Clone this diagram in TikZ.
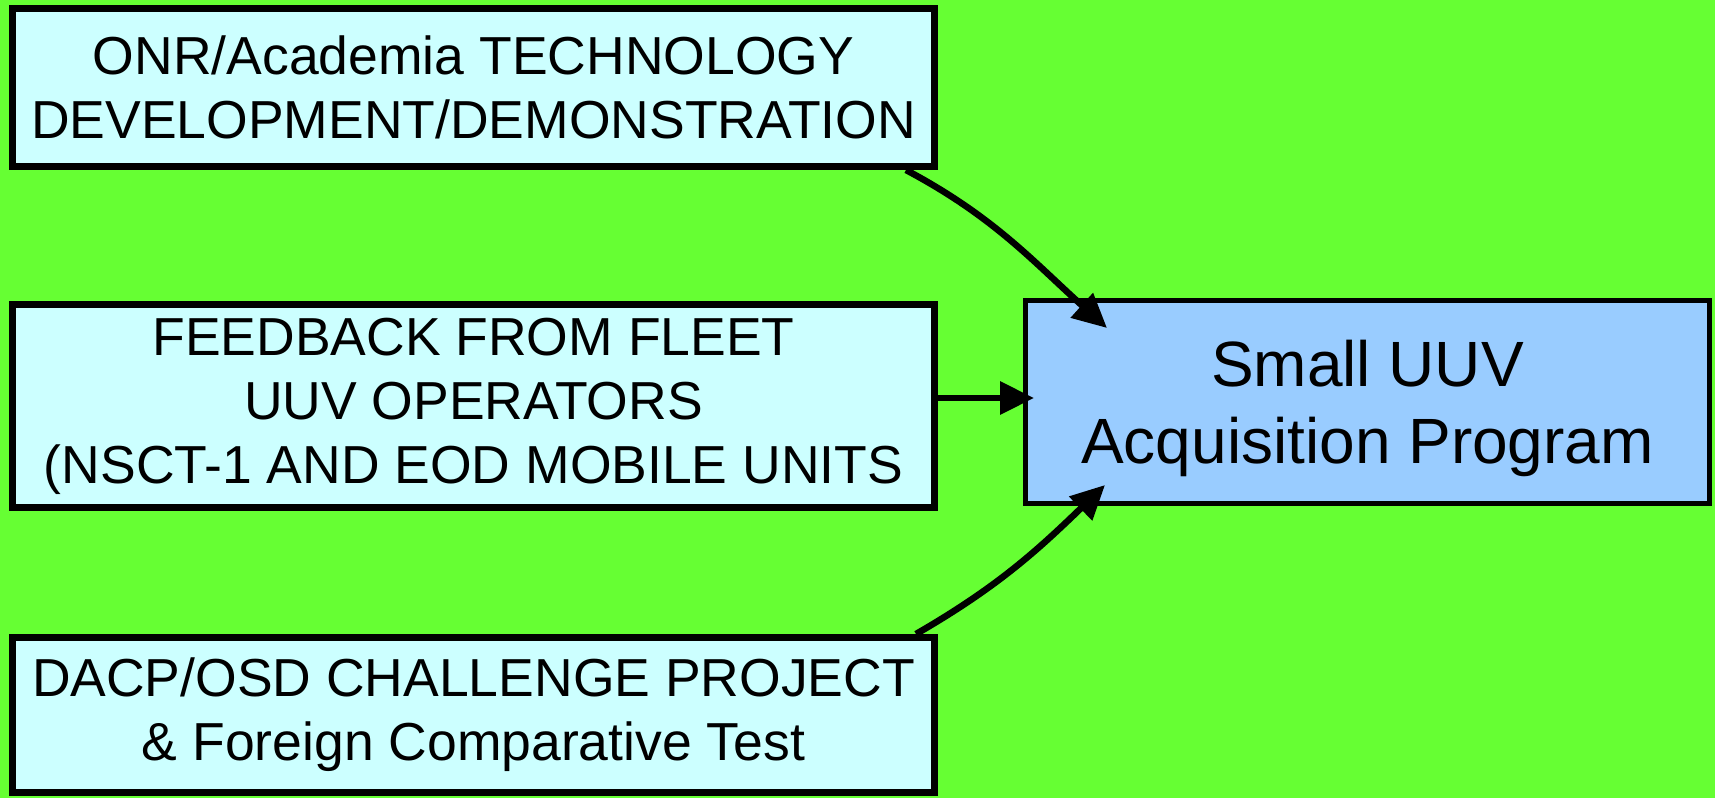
\documentclass[tikz,border=0pt]{standalone}
\usepackage{fontspec}
\setmainfont{Liberation Sans}
\usetikzlibrary{arrows.meta}
\definecolor{bggreen}{RGB}{102,255,51}
\definecolor{lightcyan}{RGB}{204,255,255}
\definecolor{lightblue}{RGB}{153,204,255}
\tikzset{
  srcbox/.style={draw=black, line width=7pt, fill=lightcyan, align=center, inner sep=0pt,
    font=\fontsize{53.5}{64}\selectfont},
  tgtbox/.style={draw=black, line width=5pt, fill=lightblue, inner sep=0pt},
  tgttext/.style={align=center, inner sep=0pt, font=\fontsize{64}{77}\selectfont},
  arr/.style={line width=6.5pt, -{Triangle[length=34pt,width=32pt]}}
}
\begin{document}
\begin{tikzpicture}[x=1pt,y=-1pt]
\fill[bggreen] (0,0) rectangle (1715,798);
\useasboundingbox (0,0) rectangle (1715,798);
\node[srcbox, minimum width=922pt, minimum height=158pt] (b1) at (473.5,87.5)
  {ONR/Academia TECHNOLOGY\\DEVELOPMENT/DEMONSTRATION};
\node[srcbox, minimum width=922pt, minimum height=203pt] (b2) at (473.5,406)
  {FEEDBACK FROM FLEET\\UUV OPERATORS\\(NSCT-1 AND EOD MOBILE UNITS};
\node[srcbox, minimum width=922pt, minimum height=155pt] (b3) at (473.5,715)
  {DACP/OSD CHALLENGE PROJECT\\\& Foreign Comparative Test};
\node[tgtbox, minimum width=684pt, minimum height=203pt] (t) at (1367.5,402) {};
\node[tgttext] (tl) at ([yshift=-6pt]t.center) {Small UUV\\Acquisition Program};
\coordinate (t1) at (1107,328);
\coordinate (t2) at (1034,398);
\coordinate (t3) at (1105,485);
\draw[arr] ([xshift=-32pt]b1.south east) to[out=-28, in=138] (t1);
\draw[arr] (b2.east |- t2) -- (t2);
\draw[arr] ([xshift=-22pt]b3.north east) to[out=30, in=-136] (t3);
\end{tikzpicture}
\end{document}
